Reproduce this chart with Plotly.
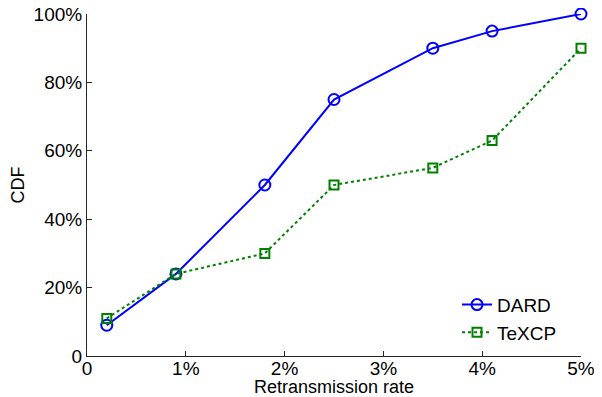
import plotly.graph_objects as go

x_rate = [0.2, 0.9, 1.8, 2.5, 3.5, 4.1, 5.0]
dard_cdf = [9, 24, 50, 75, 90, 95, 100]
texcp_cdf = [11, 24, 30, 50, 55, 63, 90]

x_ticks = [0, 1, 2, 3, 4, 5]
x_tick_labels = ["0", "1%", "2%", "3%", "4%", "5%"]
y_ticks = [0, 20, 40, 60, 80, 100]
y_tick_labels = ["0", "20%", "40%", "60%", "80%", "100%"]

FONT = "Liberation Sans, Arial, sans-serif"

fig = go.Figure()
fig.add_trace(go.Scatter(
    x=x_rate, y=dard_cdf, name="DARD", mode="lines+markers",
    line=dict(color="#0000FF", width=2),
    marker=dict(symbol="circle-open", size=11, color="#0000FF", line=dict(width=2)),
    legendgroup="a", cliponaxis=False,
))
fig.add_trace(go.Scatter(
    x=x_rate, y=texcp_cdf, name="TeXCP", mode="lines+markers",
    line=dict(color="#008000", width=2, dash="dot"),
    marker=dict(symbol="square-open", size=9, color="#008000", line=dict(width=2)),
    legendgroup="b", cliponaxis=False,
))

axis_common = dict(
    showgrid=False, zeroline=False, showline=True, linecolor="#262626", linewidth=1,
    ticks="inside", ticklen=5, tickcolor="#262626", mirror=False,
    tickfont=dict(family=FONT, size=19, color="black"),
    ticklabeloverflow="allow",
)

# page has an 8px body margin, so the figure is sized/margined to compensate
fig.update_layout(
    width=594, height=389,
    margin=dict(l=79, r=21, t=6, b=41, autoexpand=False),
    paper_bgcolor="white", plot_bgcolor="white",
    font=dict(family=FONT, size=19, color="black"),
    xaxis=dict(range=[0, 5], tickvals=x_ticks, ticktext=x_tick_labels,
               ticklabelstandoff=-5,
               title=dict(text="Retransmission rate", font=dict(family=FONT, size=18), standoff=8),
               automargin=False, **axis_common),
    yaxis=dict(range=[0, 100], tickvals=y_ticks, ticktext=y_tick_labels,
               title=dict(text="CDF", font=dict(family=FONT, size=18), standoff=4),
               automargin=False, **axis_common),
    showlegend=True,
    legend=dict(x=0.749, y=0.2055, xanchor="left", yanchor="top",
                bgcolor="rgba(0,0,0,0)", borderwidth=0,
                font=dict(family=FONT, size=19), tracegroupgap=0,
                traceorder="grouped"),
)

fig.write_html("out.html")
